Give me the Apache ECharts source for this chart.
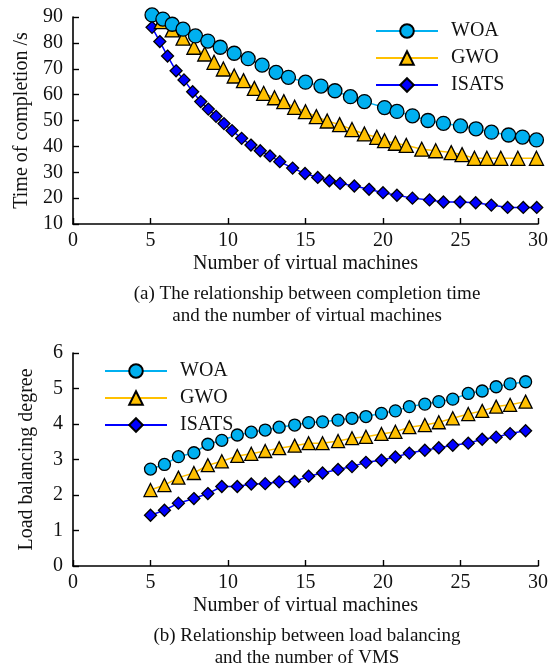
<!DOCTYPE html>
<html>
<head>
<meta charset="utf-8">
<script src="https://cdn.jsdelivr.net/npm/echarts@6/dist/echarts.min.js"></script>
<style>
html, body { margin: 0; padding: 0; background: #fff; }
#main { width: 558px; height: 666px; }
</style>
</head>
<body>
<div id="main"></div>
<script>
var myChart = echarts.init(document.getElementById('main'));

// (a) completion time
var woaX_a = [5.1, 5.8, 6.4, 7.1, 7.9, 8.7, 9.5, 10.4, 11.3, 12.2, 13.1, 13.9, 15.0, 16.0, 16.9, 17.9, 18.8, 20.1, 20.9, 21.9, 22.9, 23.9, 25.0, 26.0, 27.0, 28.1, 29.0, 29.9];
var woaY_a = [90.8, 89.2, 87.2, 85.3, 82.7, 80.7, 78.3, 76.0, 73.9, 71.4, 68.6, 66.7, 64.8, 63.3, 61.5, 59.2, 57.3, 55.0, 53.5, 51.8, 50.0, 48.9, 47.9, 46.8, 45.5, 44.4, 43.6, 42.5];
var gwoX_a = [5.7, 6.4, 7.1, 7.8, 8.5, 9.1, 9.7, 10.4, 11.0, 11.7, 12.3, 13.0, 13.6, 14.3, 15.0, 15.7, 16.4, 17.2, 18.0, 18.8, 19.6, 20.1, 20.8, 21.5, 22.5, 23.4, 24.4, 25.1, 25.9, 26.7, 27.6, 28.7, 29.9];
var gwoY_a = [88.2, 85.0, 81.8, 78.3, 75.7, 72.5, 69.9, 67.2, 65.4, 62.4, 60.5, 58.8, 57.3, 55.1, 53.4, 51.5, 49.8, 48.4, 46.5, 44.8, 43.5, 42.2, 41.2, 40.4, 38.9, 38.3, 37.6, 36.8, 35.4, 35.4, 35.4, 35.4, 35.4];
var isatsX_a = [5.1, 5.6, 6.1, 6.65, 7.16, 7.72, 8.24, 8.73, 9.23, 9.74, 10.26, 10.88, 11.48, 12.08, 12.71, 13.34, 14.17, 14.97, 15.79, 16.54, 17.23, 18.15, 19.1, 20.0, 20.9, 21.9, 23.0, 23.9, 24.97, 25.98, 26.99, 28.04, 29.05, 29.92];
var isatsY_a = [86.0, 80.5, 74.9, 69.2, 65.7, 61.1, 57.3, 54.4, 51.6, 48.8, 46.1, 43.1, 40.5, 38.3, 36.3, 34.1, 31.6, 29.5, 28.0, 26.7, 25.7, 24.7, 23.4, 22.1, 21.1, 20.0, 19.3, 18.5, 18.5, 18.2, 17.3, 16.4, 16.4, 16.4];

// (b) load balancing degree
var vmX_b = [5.0, 5.9, 6.8, 7.8, 8.7, 9.6, 10.6, 11.5, 12.4, 13.3, 14.3, 15.2, 16.1, 17.1, 18.0, 18.9, 19.9, 20.8, 21.7, 22.7, 23.6, 24.5, 25.5, 26.4, 27.3, 28.2, 29.2];
var woaY_b = [2.73, 2.86, 3.08, 3.19, 3.43, 3.54, 3.69, 3.77, 3.83, 3.91, 3.97, 4.04, 4.06, 4.11, 4.16, 4.21, 4.30, 4.37, 4.49, 4.56, 4.63, 4.70, 4.86, 4.93, 5.05, 5.13, 5.19];
var gwoY_b = [2.14, 2.28, 2.49, 2.62, 2.84, 2.95, 3.10, 3.16, 3.24, 3.32, 3.39, 3.46, 3.46, 3.52, 3.60, 3.64, 3.72, 3.78, 3.91, 3.97, 4.05, 4.16, 4.28, 4.37, 4.49, 4.54, 4.63];
var isatsY_b = [1.43, 1.57, 1.77, 1.90, 2.04, 2.24, 2.24, 2.31, 2.32, 2.37, 2.38, 2.53, 2.62, 2.72, 2.80, 2.92, 2.98, 3.07, 3.18, 3.26, 3.33, 3.40, 3.46, 3.57, 3.63, 3.73, 3.81];

var names = ['WOA', 'GWO', 'ISATS'];
var colors = ['#00B0F0', '#FFC000', '#0000FF'];
var symbols = ['circle', 'triangle', 'diamond'];
var sizesA = [14, 14, 12];
var sizesB = [12, 13, 12];
var FONT = 'Liberation Serif';

function pairs(xs, ys) {
    return xs.map(function (x, i) { return [x, ys[i]]; });
}

function makeSeries(idx, data, gi, size) {
    return {
        name: names[idx],
        type: 'line',
        xAxisIndex: gi,
        yAxisIndex: gi,
        data: data,
        clip: false,
        symbol: symbols[idx],
        symbolSize: size,
        showSymbol: true,
        lineStyle: { color: colors[idx], width: 1.5 },
        itemStyle: { color: colors[idx], borderColor: '#000', borderWidth: 1.3 },
        z: 2 + (2 - idx),
        animation: false
    };
}

function xAxisDef(gi) {
    return {
        type: 'value', gridIndex: gi, min: 0, max: 30, interval: 5,
        name: 'Number of virtual machines', nameLocation: 'middle', nameGap: 30,
        nameTextStyle: { fontFamily: FONT, fontSize: 20, color: '#111' },
        axisLine: { lineStyle: { color: '#000', width: 1.6 } },
        axisTick: { inside: true, length: 6, lineStyle: { color: '#000', width: 1.4 } },
        axisLabel: { fontFamily: FONT, fontSize: 20, color: '#111', margin: 7 },
        splitLine: { show: false }
    };
}

function yAxisDef(gi, min, max, interval, name) {
    return {
        type: 'value', gridIndex: gi, min: min, max: max, interval: interval,
        name: name, nameLocation: 'middle', nameGap: 36,
        nameTextStyle: { fontFamily: FONT, fontSize: 20, color: '#111' },
        axisLine: { show: true, lineStyle: { color: '#000', width: 1.6 } },
        axisTick: { show: true, inside: true, length: 6, lineStyle: { color: '#000', width: 1.4 } },
        axisLabel: { fontFamily: FONT, fontSize: 20, color: '#111', margin: 10 },
        splitLine: { show: false }
    };
}

function legendDef(left, top) {
    return {
        orient: 'vertical', left: left, top: top, padding: 0,
        itemWidth: 62, itemHeight: 17, itemGap: 7,
        data: names,
        textStyle: { fontFamily: FONT, fontSize: 20, color: '#111', padding: [0, 0, 0, 8] },
        selectedMode: false
    };
}

var option = {
    backgroundColor: '#fff',
    animation: false,
    title: [{
        text: '(a) The relationship between completion time\nand the number of virtual machines',
        left: 302, top: 278, textAlign: 'center',
        textStyle: { fontFamily: FONT, fontSize: 19, fontWeight: 'normal', color: '#111', lineHeight: 22 }
    }, {
        text: '(b) Relationship between load balancing\nand the number of VMS',
        left: 302, top: 620, textAlign: 'center',
        textStyle: { fontFamily: FONT, fontSize: 19, fontWeight: 'normal', color: '#111', lineHeight: 22 }
    }],
    legend: [
        Object.assign(legendDef(375, 21), { id: 'la' }),
        Object.assign(legendDef(104, 361), { id: 'lb' })
    ],
    grid: [
        { left: 73, top: 17, width: 465, height: 207 },
        { left: 73, top: 353, width: 465, height: 213 }
    ],
    xAxis: [xAxisDef(0), xAxisDef(1)],
    yAxis: [
        yAxisDef(0, 10, 90, 10, 'Time of completion /s'),
        yAxisDef(1, 0, 6, 1, 'Load balancing degree')
    ],
    series: [
        makeSeries(0, pairs(woaX_a, woaY_a), 0, sizesA[0]),
        makeSeries(1, pairs(gwoX_a, gwoY_a), 0, sizesA[1]),
        makeSeries(2, pairs(isatsX_a, isatsY_a), 0, sizesA[2]),
        makeSeries(0, pairs(vmX_b, woaY_b), 1, sizesB[0]),
        makeSeries(1, pairs(vmX_b, gwoY_b), 1, sizesB[1]),
        makeSeries(2, pairs(vmX_b, isatsY_b), 1, sizesB[2])
    ]
};

myChart.setOption(option);
</script>
</body>
</html>
